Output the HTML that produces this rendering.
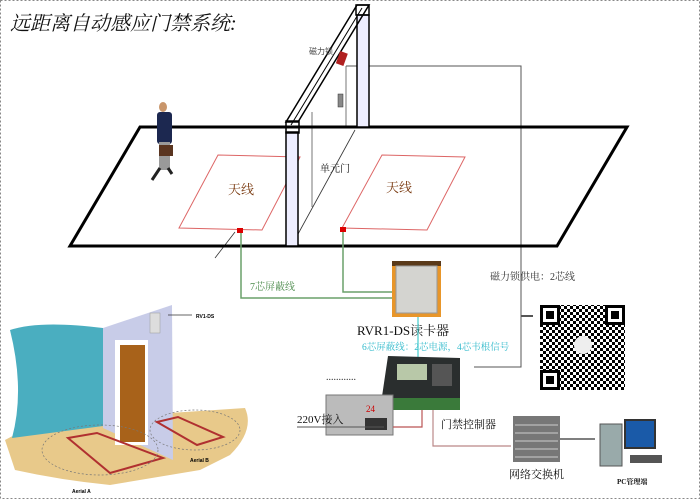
<!DOCTYPE html>
<html><head><meta charset="utf-8"><style>
html,body{margin:0;padding:0;background:#fff;}
svg{display:block;font-family:"Liberation Serif","Noto Serif CJK SC",serif;}
</style></head><body>
<svg width="700" height="499" viewBox="0 0 700 499" xmlns="http://www.w3.org/2000/svg">
<defs>
<pattern id="qr" width="6" height="6" patternUnits="userSpaceOnUse">
<rect width="6" height="6" fill="#fff"/>
<rect width="3" height="3" fill="#000"/><rect x="3" y="3" width="3" height="3" fill="#000"/>
</pattern>
</defs>
<rect x="0.5" y="0.5" width="699" height="498" fill="#fff" stroke="#888" stroke-dasharray="2,2"/>
<text x="10" y="30" font-size="20" font-style="italic" font-family="'Liberation Serif','Noto Serif CJK SC',serif" fill="#111">远距离自动感应门禁系统:</text>

<polyline points="346,66 521,66 521,367 474,367" fill="none" stroke="#555" stroke-width="1"/>
<line x1="521" y1="316" x2="533" y2="316" stroke="#555" stroke-width="2"/>
<line x1="346" y1="66" x2="346" y2="128" stroke="#555" stroke-width="0.8"/>
<line x1="312" y1="112" x2="312" y2="207" stroke="#555" stroke-width="0.8"/>
<line x1="355" y1="130" x2="292" y2="245" stroke="#333" stroke-width="0.8"/>
<line x1="235" y1="232" x2="215" y2="258" stroke="#333" stroke-width="0.8"/>

<polygon points="140,127 627,127 557,246 70,246" fill="none" stroke="#000" stroke-width="3"/>
<polygon points="218,155 300,157 262,230 179,228" fill="none" stroke="#d66" stroke-width="1"/>
<polygon points="382,155 465,157 427,230 342,228" fill="none" stroke="#d66" stroke-width="1"/>
<text x="228" y="194" font-size="13" fill="#7a3a10">天线</text>
<text x="386" y="192" font-size="13" fill="#7a3a10">天线</text>
<text x="320" y="172" font-size="10" fill="#111">单元门</text>
<rect x="237" y="228" width="6" height="5" fill="#d00"/>
<rect x="340" y="227" width="6" height="5" fill="#d00"/>

<rect x="286" y="132" width="12" height="114" fill="#eef" stroke="#000" stroke-width="1.5"/>
<rect x="357" y="15" width="12" height="112" fill="#eef" stroke="#000" stroke-width="1.5"/>
<polygon points="357,5 369,5 298,122 286,122" fill="none" stroke="#000" stroke-width="1.5"/>
<line x1="362" y1="8" x2="291" y2="125" stroke="#000" stroke-width="1"/>
<rect x="286" y="121" width="13" height="12" fill="none" stroke="#000" stroke-width="1.5"/>
<rect x="356" y="5" width="13" height="10" fill="none" stroke="#000" stroke-width="1.5"/>
<rect x="338" y="52" width="8" height="13" fill="#b02020" transform="rotate(20 342 58)"/>
<rect x="338" y="94" width="5" height="13" fill="#888" stroke="#333" stroke-width="0.5"/>
<text x="309" y="54" font-size="8" fill="#444" font-family="'Liberation Sans','Noto Sans CJK SC',sans-serif">磁力锁</text>

<ellipse cx="163" cy="107" rx="4" ry="5" fill="#c9966b"/>
<rect x="157" y="112" width="15" height="32" rx="3" fill="#1c2850"/>
<rect x="159" y="142" width="11" height="28" fill="#9a9a9a"/>
<line x1="160" y1="168" x2="152" y2="180" stroke="#222" stroke-width="3"/>
<line x1="168" y1="168" x2="172" y2="174" stroke="#222" stroke-width="3"/>
<rect x="159" y="145" width="14" height="11" fill="#5a3520"/>

<polyline points="241,233 241,298 393,298" fill="none" stroke="#6aa06a" stroke-width="1.5"/>
<polyline points="343,232 343,292 393,292" fill="none" stroke="#6aa06a" stroke-width="1.5"/>
<text x="250" y="290" font-size="10" fill="#4a8a4a">7芯屏蔽线</text>

<rect x="392" y="261" width="49" height="56" fill="#e8962a"/>
<rect x="392" y="261" width="49" height="5" fill="#5a3a1a"/>
<rect x="396" y="266" width="41" height="47" fill="#d4d4d0" stroke="#999"/>
<text x="357" y="335" font-size="13" fill="#111">RVR1-DS读卡器</text>
<line x1="418" y1="317" x2="418" y2="357" stroke="#4cc" stroke-width="1.2"/>
<text x="362" y="350" font-size="9.5" fill="#3bc">6芯屏蔽线：2芯电源，4芯韦根信号</text>
<text x="490" y="280" font-size="10" fill="#333">磁力锁供电：2芯线</text>

<rect x="540" y="305" width="85" height="85" fill="url(#qr)"/>
<g fill="#000">
<rect x="540" y="305" width="20" height="20"/><rect x="605" y="305" width="20" height="20"/><rect x="540" y="370" width="20" height="20"/>
</g>
<g fill="#fff"><rect x="543" y="308" width="14" height="14"/><rect x="608" y="308" width="14" height="14"/><rect x="543" y="373" width="14" height="14"/></g>
<g fill="#000"><rect x="546" y="311" width="8" height="8"/><rect x="611" y="311" width="8" height="8"/><rect x="546" y="376" width="8" height="8"/></g>
<circle cx="583" cy="345" r="9" fill="#eee"/>

<text x="326" y="380" font-size="10" fill="#333">............</text>
<polygon points="388,356 460,358 460,405 380,410" fill="#2a2e2e"/>
<rect x="397" y="364" width="30" height="16" fill="#b8c8a8"/>
<rect x="432" y="364" width="20" height="22" fill="#555"/>
<rect x="380" y="398" width="80" height="12" fill="#3a7a3a"/>
<rect x="326" y="395" width="67" height="40" fill="#bbb" stroke="#777"/>
<text x="366" y="412" font-size="9" fill="#c00">24</text>
<rect x="365" y="418" width="22" height="12" fill="#333"/>
<text x="297" y="423" font-size="11" fill="#111">220V接入</text>
<line x1="297" y1="427" x2="384" y2="427" stroke="#555" stroke-width="1"/>
<polyline points="422,410 422,427 393,427" fill="none" stroke="#b55" stroke-width="1.2"/>
<polyline points="433,410 433,446 511,446" fill="none" stroke="#b88" stroke-width="1.2"/>
<text x="441" y="428" font-size="11" fill="#111">门禁控制器</text>

<rect x="513" y="416" width="47" height="46" fill="#777"/>
<g stroke="#ccc" stroke-width="1"><line x1="515" y1="425" x2="558" y2="425"/><line x1="515" y1="433" x2="558" y2="433"/><line x1="515" y1="441" x2="558" y2="441"/><line x1="515" y1="449" x2="558" y2="449"/><line x1="515" y1="457" x2="558" y2="457"/></g>
<text x="509" y="478" font-size="11" fill="#111">网络交换机</text>
<line x1="560" y1="439" x2="595" y2="439" stroke="#555" stroke-width="1.5"/>
<rect x="600" y="424" width="22" height="42" fill="#9aa" stroke="#555"/>
<rect x="625" y="420" width="30" height="28" fill="#1a5aa8" stroke="#333" stroke-width="2"/>
<rect x="630" y="455" width="32" height="8" fill="#555"/>
<text x="617" y="484" font-size="7" font-weight="bold" fill="#111">PC管理端</text>

<path d="M5,440 Q60,410 140,415 L245,408 Q255,430 230,455 L200,470 L110,485 Q60,480 15,470 Z" fill="#e8c98a"/>
<path d="M10,330 Q40,320 103,328 L103,426 L12,438 Q25,390 10,330 Z" fill="#4aaec0"/>
<polygon points="103,328 172,305 173,460 103,428" fill="#c8cce8"/>
<rect x="115" y="340" width="33" height="105" fill="#fff"/>
<rect x="120" y="345" width="25" height="97" fill="#a8621a"/>
<rect x="150" y="313" width="10" height="20" fill="#ddd" stroke="#999" stroke-width="0.5"/>
<line x1="168" y1="315" x2="192" y2="315" stroke="#333" stroke-width="0.8"/>
<text x="196" y="318" font-size="5" font-weight="bold" font-family="'Liberation Sans',sans-serif">RV1-DS</text>
<polygon points="68,438 97,433 163,458 110,473" fill="none" stroke="#b03030" stroke-width="2"/>
<polygon points="157,422 178,417 223,437 197,445" fill="none" stroke="#b03030" stroke-width="2"/>
<ellipse cx="100" cy="450" rx="58" ry="25" fill="none" stroke="#777" stroke-dasharray="2,2" stroke-width="0.7"/>
<ellipse cx="195" cy="430" rx="45" ry="20" fill="none" stroke="#777" stroke-dasharray="2,2" stroke-width="0.7"/>
<text x="72" y="493" font-size="5" font-weight="bold" font-family="'Liberation Sans',sans-serif">Aerial A</text>
<text x="190" y="462" font-size="5" font-weight="bold" font-family="'Liberation Sans',sans-serif">Aerial B</text>
</svg>
</body></html>
